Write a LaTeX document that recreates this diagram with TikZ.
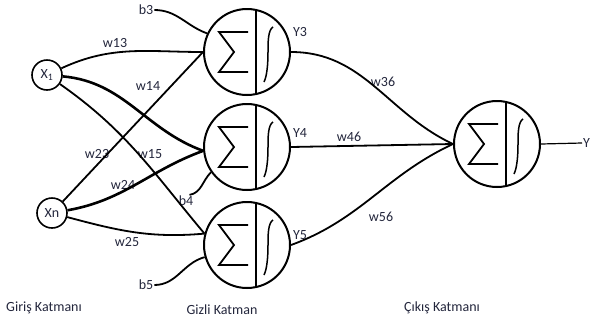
\documentclass[tikz,border=0pt]{standalone}
\usepackage{fontspec}
\setmainfont{Carlito}
\definecolor{ink}{RGB}{35,38,60}

% inside of a neuron: sum sign, divider and activation curve
\newcommand{\neuronbody}[1]{%
  \begin{scope}[shift={(#1)}]
    \draw[wire] (9,42) -- (9,-42);
    \draw[wire, line join=miter] (1,20) -- (-28,20) -- (-13,0) -- (-28,-20) -- (1,-20);
    \draw[curl] (26,25) .. controls (21,22) and (21,10) .. (21,0)
      .. controls (21,-12) and (20,-24) .. (17,-30);
  \end{scope}}

\begin{document}
\begin{tikzpicture}[x=1pt, y=1pt, font=\fontsize{14}{16}\selectfont,
    wire/.style={line width=1.8pt},
    thickwire/.style={line width=2.6pt},
    curl/.style={line width=1.5pt},
    input/.style={circle, draw, line width=1.6pt, minimum size=30pt, inner sep=0pt, text=ink},
    neuron/.style={circle, draw, line width=2pt, minimum size=86pt, inner sep=0pt},
    lbl/.style={inner sep=1pt, text=ink}]
  \useasboundingbox (0,0) rectangle (591,-325);

  % inputs
  \node[input] (x1) at (47,-75) {X\textsubscript{1}};
  \node[input] (xn) at (52,-213) {Xn};

  % hidden layer
  \node[neuron] (n3) at (247,-52) {};
  \node[neuron] (n4) at (247,-147) {};
  \node[neuron] (n5) at (247,-245) {};
  \neuronbody{n3}
  \neuronbody{n4}
  \neuronbody{n5}

  % output
  \node[neuron] (n6) at (497,-144) {};
  \neuronbody{n6}
  \node[lbl, anchor=west] (yo) at (582,-143) {Y};

  % biases
  \node[lbl] (b3) at (146,-10) {b3};
  \node[lbl] (b4) at (186,-201) {b4};
  \node[lbl] (b5) at (146,-285) {b5};

  \node[lbl] at (300,-32) {Y3};
  \node[lbl] at (300,-133) {Y4};
  \node[lbl] at (300,-235) {Y5};

  % weights
  \node[lbl] at (115,-43) {w13};
  \node[lbl] at (148,-86) {w14};
  \node[lbl] at (150,-154) {w15};
  \node[lbl] at (97,-154) {w23};
  \node[lbl] at (123,-185) {w24};
  \node[lbl] at (127,-242) {w25};
  \node[lbl] at (383,-82) {w36};
  \node[lbl] at (349,-137) {w46};
  \node[lbl] at (381,-217) {w56};

  % layers
  \node[lbl] at (44,-308) {Giriş Katmanı};
  \node[lbl] at (222,-310) {Gizli Katman};
  \node[lbl] at (442,-308) {Çıkış Katmanı};

  \draw[wire] (x1) to[out=25, in=180] (n3.west);
  \draw[thickwire] (x1) to[out=-5, in=160] (n4.185);
  \draw[wire] (x1) to[out=-35, in=130] (n5.165);
  \draw[wire] (xn) -- (n3.west);
  \draw[thickwire] (xn) to[out=10, in=200] (n4.185);
  \draw[wire] (xn) to[out=-15, in=185] (n5.165);

  \draw[wire] (b3.east) to[out=0, in=160] (n3.155);
  \draw[wire] (b4.60) to[out=10, in=225] (n4.215);
  \draw[wire] (b5.east) to[out=0, in=195] (n5.196);

  \draw[wire] (n3.east) to[out=0, in=155] (n6.west);
  \draw[wire] (n4.east) -- (n6.west);
  \draw[wire] (n5.east) to[out=20, in=205] (n6.west);
  \draw[line width=1.2pt] (n6.east) -- (yo.west);
\end{tikzpicture}
\end{document}
